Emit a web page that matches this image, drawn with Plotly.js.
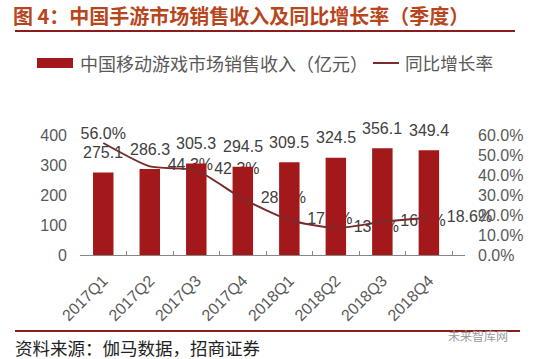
<!DOCTYPE html>
<html>
<head>
<meta charset="utf-8">
<script src="https://cdn.plot.ly/plotly-3.0.1.min.js"></script>
<style>html,body{margin:0;padding:0;background:#fff;}#chart{width:557px;height:359px;}</style>
</head>
<body>
<div id="chart"></div>
<script>
// ---- data ----
var quarters = ['2017Q1','2017Q2','2017Q3','2017Q4','2018Q1','2018Q2','2018Q3','2018Q4'];
var revenue = [275.1, 286.3, 305.3, 294.5, 309.5, 324.5, 356.1, 349.4];
var growth = [56.0, 44.3, 42.3, 28.1, 17.5, 13.4, 16.6, 18.6];
var revenueTicks = [0, 100, 200, 300, 400];
var growthTicks = [0, 10, 20, 30, 40, 50, 60];
var titleText = '图 4：中国手游市场销售收入及同比增长率（季度）';
var seriesNames = ['中国移动游戏市场销售收入（亿元）', '同比增长率'];
var sourceText = '资料来源：伽马数据，招商证券';
var watermarkText = '未来智库网';

// ---- geometry helpers (plot area: x 80..465, y 135..255) ----
var W = 557, H = 359, L = 80, R = 92, T = 135, B = 104;
var pw = W - L - R, ph = H - T - B;
function px(x){ return (x - L) / pw; }
function py(y){ return (H - B - y) / ph; }

var FONT = 'Liberation Sans, Arial, Noto Sans CJK SC, sans-serif';
var CJK = 'Noto Sans CJK SC, sans-serif';
var barColor = '#a3191b';
var lineColor = '#7a2b2b';
var gray = '#595959';

var traces = [
  { // percentage labels (drawn beneath bars)
    type: 'scatter', mode: 'markers+text', x: quarters, y: growth,
    yaxis: 'y', xaxis: 'x',
    text: growth.map(function(v){ return v.toFixed(1) + '%'; }),
    textposition: growth.map(function(v, i){ return i === 0 ? 'top center' : 'middle right'; }),
    textfont: {family: FONT, size: 16, color: '#404040'},
    marker: {size: growth.map(function(v, i){ return i === 0 ? 0 : 27; }), opacity: 0},
    showlegend: false, hoverinfo: 'skip', cliponaxis: false
  },
  {
    type: 'bar', x: quarters, y: revenue, name: seriesNames[0],
    xaxis: 'x', yaxis: 'y2',
    marker: {color: barColor, line: {width: 0}},
    showlegend: false
  },
  {
    type: 'scatter', mode: 'lines', x: quarters, y: growth, name: seriesNames[1],
    xaxis: 'x', yaxis: 'y3',
    line: {color: lineColor, width: 2, shape: 'spline', smoothing: 0.6},
    showlegend: false, cliponaxis: false
  }
];

var annotations = revenue.map(function(v, i){
  return {x: quarters[i], y: v, xref: 'x', yref: 'y2', text: v.toFixed(1),
    showarrow: false, yshift: 20, yanchor: 'middle', xanchor: 'center',
    font: {family: FONT, size: 16, color: '#404040'}};
});
// legend texts
annotations.push({xref: 'paper', yref: 'paper', x: px(78), y: py(63), xanchor: 'left', yanchor: 'middle',
  text: seriesNames[0], showarrow: false, font: {family: CJK, size: 18, color: gray}});
annotations.push({xref: 'paper', yref: 'paper', x: px(403), y: py(63), xanchor: 'left', yanchor: 'middle',
  text: seriesNames[1], showarrow: false, font: {family: CJK, size: 17.6, color: gray}});
// source
annotations.push({xref: 'paper', yref: 'paper', x: px(13), y: py(347), xanchor: 'left', yanchor: 'middle',
  text: sourceText, showarrow: false, font: {family: CJK, size: 17.5, color: '#222222'}});
// watermark
annotations.push({xref: 'paper', yref: 'paper', x: px(446), y: py(335), xanchor: 'left', yanchor: 'middle',
  text: watermarkText, showarrow: false, font: {family: CJK, size: 12, color: '#9a9a9a'}});

var shapes = [
  {type: 'line', xref: 'paper', yref: 'paper', x0: px(15), x1: px(515), y0: py(31), y1: py(31),
   line: {color: '#8b1c1c', width: 2}},
  {type: 'line', xref: 'paper', yref: 'paper', x0: px(15), x1: px(520), y0: py(331), y1: py(331),
   line: {color: '#8b1c1c', width: 2}},
  {type: 'rect', xref: 'paper', yref: 'paper', x0: px(37), x1: px(73), y0: py(68), y1: py(58),
   fillcolor: barColor, line: {width: 0}},
  {type: 'line', xref: 'paper', yref: 'paper', x0: px(373), x1: px(399), y0: py(63), y1: py(63),
   line: {color: lineColor, width: 2}}
];

var layout = {
  width: W, height: H, autosize: false,
  margin: {l: L, r: R, t: T, b: B, pad: 0},
  paper_bgcolor: '#ffffff', plot_bgcolor: 'rgba(0,0,0,0)',
  showlegend: false,
  bargap: 0.56,
  font: {family: FONT, color: gray},
  title: {text: '<b>' + titleText + '</b>', xref: 'container', yref: 'container',
    x: 13 / W, xanchor: 'left', y: 1 - 17 / H, yanchor: 'middle',
    font: {family: CJK, size: 20, color: '#b8461d'}},
  xaxis: {type: 'category', showline: true, linecolor: '#868686', linewidth: 1,
    ticks: 'inside', tickson: 'boundaries', ticklen: 4, tickcolor: '#868686',
    tickangle: -45, tickfont: {family: FONT, size: 16, color: gray},
    showgrid: false, zeroline: false, ticklabelstandoff: 9},
  yaxis: {side: 'right', range: [0, 60], tickvals: growthTicks,
    ticktext: growthTicks.map(function(v){ return v.toFixed(1) + '%'; }),
    showgrid: false, zeroline: false, showline: false, ticks: '',
    tickfont: {family: FONT, size: 16, color: gray}, ticklabelstandoff: 12},
  yaxis2: {overlaying: 'y', side: 'left', range: [0, 400], tickvals: revenueTicks,
    showgrid: false, zeroline: false, showline: false, ticks: '',
    tickfont: {family: FONT, size: 16, color: gray}, ticklabelstandoff: 12},
  yaxis3: {overlaying: 'y', range: [0, 60], visible: false, showgrid: false, zeroline: false},
  annotations: annotations,
  shapes: shapes
};

Plotly.newPlot('chart', traces, layout, {displayModeBar: false, staticPlot: true});
</script>
</body>
</html>
